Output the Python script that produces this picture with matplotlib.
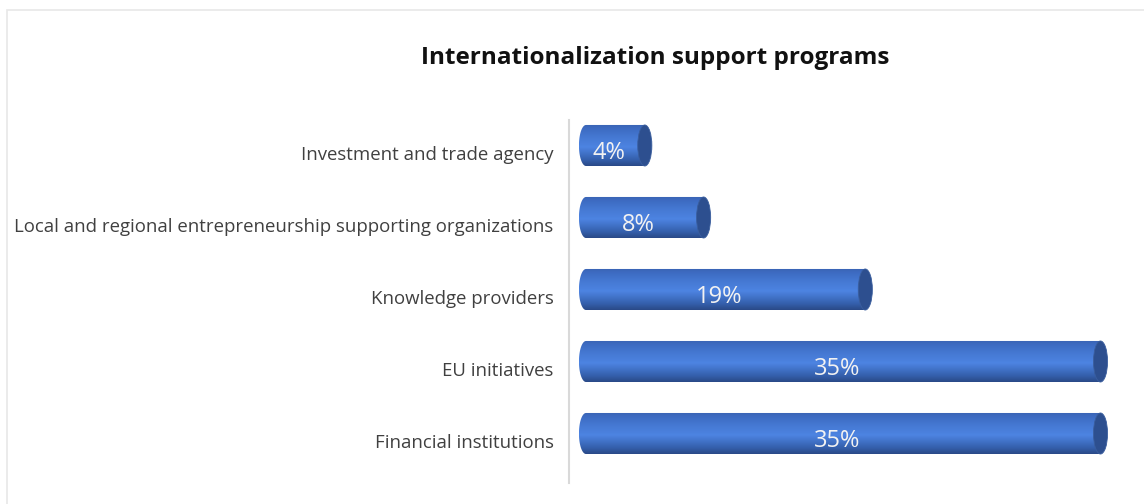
import numpy as np
import matplotlib.pyplot as plt
from matplotlib.patches import Ellipse, Polygon, Rectangle
from matplotlib.colors import LinearSegmentedColormap

categories = ['Financial institutions', 'EU initiatives', 'Knowledge providers',
              'Local and regional entrepreneurship supporting organizations',
              'Investment and trade agency']
shares = [35, 35, 19, 8, 4]
value_labels = ['35%', '35%', '19%', '8%', '4%']

plt.rcParams['font.family'] = ['Open Sans', 'DejaVu Sans']

fig = plt.figure(figsize=(11.44, 5.04), dpi=100)
fig.patches.append(Rectangle((6.5 / 1144, -0.1), 1.2, 1.1 - 10.5 / 504,
                             transform=fig.transFigure, fill=False,
                             edgecolor='#e8e8e8', linewidth=1.2))

ax = fig.add_axes([569 / 1144, 21 / 504, 551 / 1144, 363 / 504])

# vertical shading of the cylinder body, bottom to top
shade = LinearSegmentedColormap.from_list('cyl', [
    (0.0, '#2a4a88'), (0.15, '#3560ad'), (0.45, '#4d84e2'),
    (0.7, '#4578d2'), (0.9, '#3d6bc2'), (1.0, '#3a63b3')])
grad = np.linspace(0, 1, 64).reshape(-1, 1)

bar_h = 0.57
cap_w = 0.48
for i, v in enumerate(shares):
    y0, y1 = i - bar_h / 2, i + bar_h / 2
    t = np.linspace(np.pi / 2, 3 * np.pi / 2, 40)
    pts = np.column_stack([cap_w * np.cos(t), i + bar_h / 2 * np.sin(t)])
    pts = np.vstack([pts, [[v, y0], [v, y1]]])
    clip = Polygon(pts, closed=True, transform=ax.transData, facecolor='none', edgecolor='none')
    ax.add_patch(clip)
    im = ax.imshow(grad, cmap=shade, extent=[-cap_w, v, y0, y1], origin='lower',
                   aspect='auto', interpolation='bilinear', zorder=2)
    im.set_clip_path(clip)
    ax.add_patch(Ellipse((v, i), 2 * cap_w, bar_h, facecolor='#2d4f8f',
                         edgecolor='#3a5e9e', linewidth=0.6, zorder=3))
    ax.text(v / 2 - 0.45, i - 0.1, value_labels[i], ha='center', va='center',
            color='#f2f2f2', fontsize=17, zorder=4)

ax.set_xlim(-17 / 14.7, 534 / 14.7)
ax.set_ylim(-0.6875, 4.354)
ax.set_yticks(np.arange(len(categories)) - 0.1)
ax.set_yticklabels(categories, fontsize=13.4, color='#404040')
ax.tick_params(axis='y', length=0, pad=11)
ax.set_xticks([])
for s in ['top', 'right', 'bottom']:
    ax.spines[s].set_visible(False)
ax.spines['left'].set_color('#d9d9d9')
ax.spines['left'].set_linewidth(1.5)

fig.text(655 / 1144, 1 - 58 / 504, 'Internationalization support programs',
         ha='center', va='center', fontsize=17.5, fontweight='bold', color='#111111')

fig.savefig('out.png', dpi=100)
